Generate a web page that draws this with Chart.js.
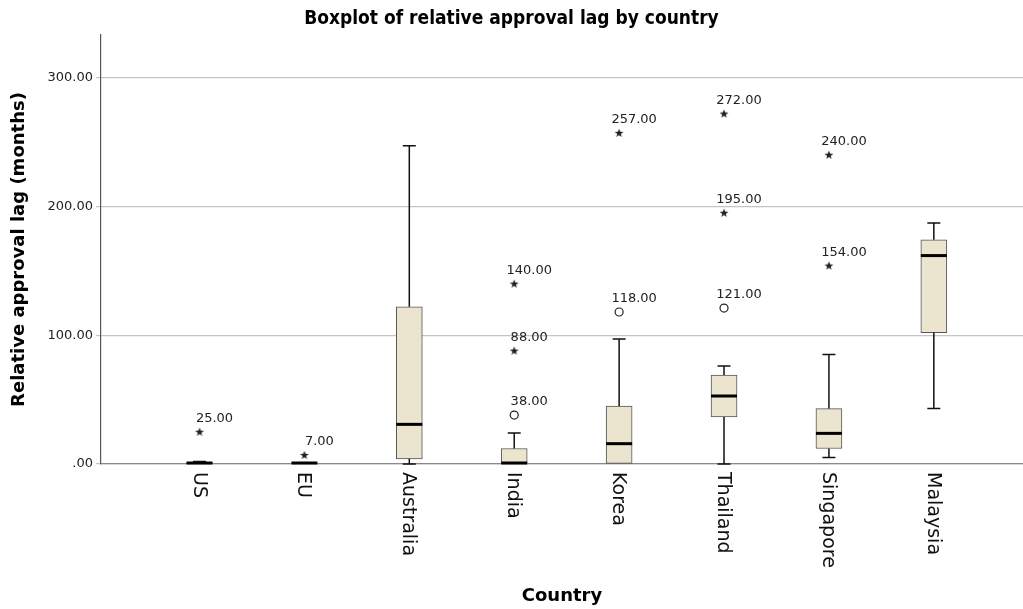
<!DOCTYPE html>
<html>
<head>
<meta charset="utf-8">
<script src="https://cdn.jsdelivr.net/npm/chart.js@4.4.0/dist/chart.umd.min.js"></script>
<style>
  html, body { margin: 0; padding: 0; background: #fff; }
  #wrap { width: 1023px; height: 609px; position: relative; }
</style>
</head>
<body>
<div id="wrap"><canvas id="boxChart"></canvas></div>
<script>
// DATA
const countries = ["US", "EU", "Australia", "India", "Korea", "Thailand", "Singapore", "Malaysia"];
const whiskerLow = [0, 0, 0, 0, 0, 0, 5, 43];
const q1 = [0, 0, 4, 0, 0, 36.5, 12, 102];
const median = [0, 0, 30, 0, 15, 52, 23, 161];
const q3 = [1, 0, 122, 12, 45, 69, 43, 174];
const whiskerHigh = [2, 0, 247, 24, 97, 76, 85, 187];

// circles = outliers, stars = extreme values
const outlierCountry = ["India", "Korea", "Thailand"];
const outlierValue = [38, 118, 121];
const extremeCountry = ["US", "EU", "India", "India", "Korea", "Thailand", "Thailand", "Singapore", "Singapore"];
const extremeValue = [25, 7, 88, 140, 257, 195, 272, 154, 240];

const yTicks = [0, 100, 200, 300];

function fmt(v) {
    return v === 0 ? ".00" : v.toFixed(2);
}

// small filled star used as point style
const starImg = document.createElement("canvas");
starImg.width = 10;
starImg.height = 10;
(function () {
    const c = starImg.getContext("2d");
    c.fillStyle = "#222";
    c.beginPath();
    for (let i = 0; i < 10; i++) {
        const r = i % 2 === 0 ? 4.6 : 1.9;
        const a = -Math.PI / 2 + i * Math.PI / 5;
        const px = 5 + r * Math.cos(a);
        const py = 5.3 + r * Math.sin(a);
        if (i === 0) c.moveTo(px, py); else c.lineTo(px, py);
    }
    c.closePath();
    c.fill();
})();

// whiskers, medians, outlier labels, category labels
const boxExtras = {
    id: "boxExtras",
    afterDatasetsDraw(chart) {
        const ctx = chart.ctx;
        const xs = chart.scales.x;
        const ys = chart.scales.y;
        ctx.save();
        countries.forEach((c, i) => {
            const x = xs.getPixelForValue(i);
            const yLo = ys.getPixelForValue(whiskerLow[i]);
            const yHi = ys.getPixelForValue(whiskerHigh[i]);
            const yQ1 = ys.getPixelForValue(q1[i]);
            const yQ3 = ys.getPixelForValue(q3[i]);
            ctx.strokeStyle = "#111";
            ctx.lineWidth = 1.5;
            ctx.beginPath();
            if (whiskerHigh[i] > q3[i]) {
                ctx.moveTo(x, yQ3); ctx.lineTo(x, yHi);
                ctx.moveTo(x - 6.5, yHi); ctx.lineTo(x + 6.5, yHi);
            }
            if (whiskerLow[i] < q1[i]) {
                ctx.moveTo(x, yQ1); ctx.lineTo(x, yLo);
                ctx.moveTo(x - 6.5, yLo); ctx.lineTo(x + 6.5, yLo);
            }
            ctx.stroke();
            const yM = ys.getPixelForValue(median[i]);
            ctx.lineWidth = 3;
            ctx.strokeStyle = "#000";
            ctx.beginPath();
            ctx.moveTo(x - 13, yM - 1);
            ctx.lineTo(x + 13, yM - 1);
            ctx.stroke();
        });

        // value labels above outliers
        ctx.fillStyle = "#222";
        ctx.font = "13px 'DejaVu Sans'";
        ctx.textAlign = "center";
        ctx.textBaseline = "middle";
        const lab = (c, v) => {
            const x = xs.getPixelForValue(countries.indexOf(c));
            const y = ys.getPixelForValue(v);
            ctx.fillText(v.toFixed(2), x + 15, y - 13);
        };
        outlierCountry.forEach((c, k) => lab(c, outlierValue[k]));
        extremeCountry.forEach((c, k) => lab(c, extremeValue[k]));

        // rotated category labels
        ctx.fillStyle = "#111";
        ctx.font = "19px 'DejaVu Sans'";
        ctx.textAlign = "left";
        countries.forEach((c, i) => {
            const x = xs.getPixelForValue(i) - 1;
            ctx.save();
            ctx.translate(x, chart.chartArea.bottom + 8);
            ctx.rotate(Math.PI / 2);
            ctx.fillText(c, 0, 0);
            ctx.restore();
        });
        ctx.restore();
    },
};

const ctx = document.getElementById("boxChart").getContext("2d");
new Chart(ctx, {
    type: "bar",
    data: {
        datasets: [
            {
                label: "Box",
                data: countries.map((c, i) => ({ x: i, y: [q1[i], q3[i]] })),
                backgroundColor: "#ebe4cf",
                borderColor: "#555",
                borderWidth: 1,
                borderSkipped: false,
                barThickness: 26,
                order: 2,
            },
            {
                type: "scatter",
                label: "Outliers",
                data: outlierCountry.map((c, k) => ({ x: countries.indexOf(c), y: outlierValue[k] })),
                pointStyle: "circle",
                radius: 4,
                borderWidth: 1.2,
                borderColor: "#222",
                backgroundColor: "rgba(0,0,0,0)",
                order: 1,
            },
            {
                type: "scatter",
                label: "Extremes",
                data: extremeCountry.map((c, k) => ({ x: countries.indexOf(c), y: extremeValue[k] })),
                pointStyle: starImg,
                order: 1,
            },
        ],
    },
    options: {
        responsive: true,
        maintainAspectRatio: false,
        animation: false,
        layout: { padding: 0, autoPadding: false },
        plugins: {
            legend: { display: false },
            tooltip: { enabled: false },
            title: {
                display: true,
                text: "Boxplot of relative approval lag by country",
                color: "#000",
                font: { family: "'Liberation Sans Narrow', 'DejaVu Sans Condensed', sans-serif", size: 19, weight: "bold" },
                padding: { top: 8, bottom: 4.2 },
            },
        },
        scales: {
            x: {
                type: "linear",
                offset: false,
                min: -0.939,
                max: 7.85,
                grid: { display: false },
                ticks: { display: false },
                border: { display: true, color: "#8a8a8a", width: 1.2 },
                title: {
                    display: true,
                    text: "Country",
                    color: "#000",
                    font: { family: "'DejaVu Sans'", size: 18, weight: "bold" },
                    padding: { top: 0, bottom: 1.5 },
                },
                afterFit(scale) { scale.height = 145; },
            },
            y: {
                min: 0,
                max: 333,
                afterBuildTicks(scale) { scale.ticks = yTicks.map(v => ({ value: v })); },
                ticks: {
                    callback: (v) => fmt(v),
                    color: "#222",
                    font: { family: "'DejaVu Sans'", size: 13 },
                    padding: 3,
                },
                grid: { color: "#c4c4c4", lineWidth: 1.2, tickLength: 5 },
                border: { display: true, color: "#555", width: 1.2 },
                title: {
                    display: true,
                    text: "Relative approval lag (months)",
                    color: "#000",
                    font: { family: "'DejaVu Sans'", size: 18, weight: "bold" },
                    padding: { top: 9, bottom: 0 },
                },
                afterFit(scale) { scale.width = 101; },
            },
        },
    },
    plugins: [boxExtras],
});
</script>
</body>
</html>
